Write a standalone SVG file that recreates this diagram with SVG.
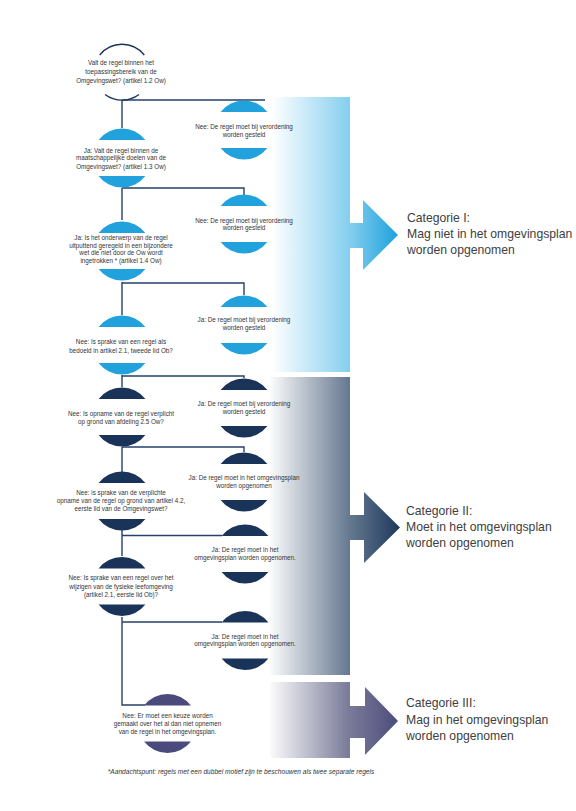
<svg xmlns="http://www.w3.org/2000/svg" xmlns:xlink="http://www.w3.org/1999/xlink" width="576" height="811" viewBox="0 0 576 811">
<style>
.t{font-family:"Liberation Sans",Arial,sans-serif;font-size:6.3px;fill:#333;text-anchor:middle}
.c{font-family:"Liberation Sans",Arial,sans-serif;font-size:12.2px;fill:#404040}
.con{fill:none;stroke:#24426a;stroke-width:1.4}
.lb{fill:#22a2dc}.nv{fill:#1a3358}.pu{fill:#4a4b7c}
.fn{font-family:"Liberation Sans",Arial,sans-serif;font-size:6.6px;font-style:italic;fill:#333;text-anchor:middle}
</style>
<defs>
<path id="cap" d="M-23.4,-18 A29.5,29.5 0 0 1 23.4,-18 Z M-23.4,18 A29.5,29.5 0 0 0 23.4,18 Z"/>
<linearGradient id="g1" gradientUnits="userSpaceOnUse" x1="272" y1="0" x2="400" y2="0">
<stop offset="0" stop-color="#fff"/><stop offset="0.6" stop-color="#86cfef"/><stop offset="1" stop-color="#1a9fdb"/>
</linearGradient>
<linearGradient id="g2" gradientUnits="userSpaceOnUse" x1="268" y1="0" x2="402" y2="0">
<stop offset="0" stop-color="#fff"/><stop offset="0.6" stop-color="#677a91"/><stop offset="1" stop-color="#1b365b"/>
</linearGradient>
<linearGradient id="g3" gradientUnits="userSpaceOnUse" x1="268" y1="0" x2="400" y2="0">
<stop offset="0" stop-color="#fff"/><stop offset="0.6" stop-color="#7c7d9a"/><stop offset="1" stop-color="#4a4a7a"/>
</linearGradient>
</defs>
<rect width="576" height="811" fill="#fff"/>
<g id="bars">
<path fill="url(#g1)" d="M270,97 H350 V223 H363 V200 L398,235 L363,270 V248 H350 V372 H270 Z"/>
<path fill="url(#g2)" d="M270,377 H350 V515 H364 V492 L400,527.5 L364,563 V540 H350 V675 H270 Z"/>
<path fill="url(#g3)" d="M270,682 H350 V706 H365 V687 L398,721 L365,755 V738 H350 V758 H270 Z"/>
</g>
<g id="connectors" class="con">
<path d="M122,100 V128 M122,100 H265"/>
<path d="M122,188 V220 M122,188 H244 V195"/>
<path d="M122,282 V315 M122,283 H244 V295"/>
<path d="M122,375 V387 M122,376 H244 V378"/>
<path d="M122,447 V472 M122,447 H244 V452"/>
<path d="M122,530 V556 M122,535.5 H222"/>
<path d="M122,617 V705 H145 M122,622 H222"/>
</g>
<g id="n1">
<path d="M99.7,55 A28.5,28.5 0 0 1 144.3,55 M105,94.5 A28.5,28.5 0 0 0 139,94.5" fill="none" stroke="#1a3358" stroke-width="1.3"/>
<text class="t" x="121" y="65">Valt de regel binnen het</text>
<text class="t" x="121" y="74">toepassingsbereik van de</text>
<text class="t" x="121" y="83">Omgevingswet? (artikel 1.2 Ow)</text>
</g>
<g id="r1">
<use href="#cap" class="lb" transform="translate(244,130)"/>
<text class="t" x="244" y="129">Nee: De regel moet bij verordening</text>
<text class="t" x="244" y="137">worden gesteld</text>
</g>
<g id="n2">
<use href="#cap" class="lb" transform="translate(122,158)"/>
<text class="t" x="121" y="152.7">Ja: Valt de regel binnen de</text>
<text class="t" x="121" y="160.3">maatschappelijke doelen van de</text>
<text class="t" x="121" y="168.7">Omgevingswet? (artikel 1.3 Ow)</text>
</g>
<g id="r2">
<use href="#cap" class="lb" transform="translate(244,224)"/>
<text class="t" x="244" y="222.7">Nee: De regel moet bij verordening</text>
<text class="t" x="244" y="229.7">worden gesteld</text>
</g>
<g id="n3">
<use href="#cap" class="lb" transform="translate(122,251)"/>
<text class="t" x="121" y="240.3">Ja: Is het onderwerp van de regel</text>
<text class="t" x="121" y="248">uitputtend geregeld in een bijzondere</text>
<text class="t" x="121" y="255.3">wet die niet door de Ow wordt</text>
<text class="t" x="121" y="262.7">ingetrokken * (artikel 1.4 Ow)</text>
</g>
<g id="r3">
<use href="#cap" class="lb" transform="translate(244,325)"/>
<text class="t" x="244" y="322">Ja: De regel moet bij verordening</text>
<text class="t" x="244" y="330">worden gesteld</text>
</g>
<g id="n4">
<use href="#cap" class="lb" transform="translate(122,345)"/>
<text class="t" x="121" y="344">Nee: Is sprake van een regel als</text>
<text class="t" x="121" y="353">bedoeld in artikel 2.1, tweede lid Ob?</text>
</g>
<g id="r4">
<use href="#cap" class="nv" transform="translate(244,408)"/>
<text class="t" x="244" y="406">Ja: De regel moet bij verordening</text>
<text class="t" x="244" y="414">worden gesteld</text>
</g>
<g id="n5">
<use href="#cap" class="nv" transform="translate(122,417)"/>
<text class="t" x="121" y="416">Nee: Is opname van de regel verplicht</text>
<text class="t" x="121" y="424">op grond van afdeling 2.5 Ow?</text>
</g>
<g id="r5">
<use href="#cap" class="nv" transform="translate(244,482)"/>
<text class="t" x="244" y="480">Ja: De regel moet in het omgevingsplan</text>
<text class="t" x="244" y="487.5">worden opgenomen</text>
</g>
<g id="n6">
<use href="#cap" class="nv" transform="translate(122,501)"/>
<text class="t" x="121" y="495">Nee: is sprake van de verplichte</text>
<text class="t" x="121" y="503">opname van de regel op grond van artikel 4.2,</text>
<text class="t" x="121" y="511">eerste lid van de Omgevingswet?</text>
</g>
<g id="r6">
<use href="#cap" class="nv" transform="translate(245,554)"/>
<text class="t" x="245" y="552">Ja: De regel moet in het</text>
<text class="t" x="245" y="560">omgevingsplan worden opgenomen.</text>
</g>
<g id="n7">
<use href="#cap" class="nv" transform="translate(122,586.5)"/>
<text class="t" x="121" y="580">Nee: Is sprake van een regel over het</text>
<text class="t" x="121" y="589">wijzigen van de fysieke leefomgeving</text>
<text class="t" x="121" y="597">(artikel 2.1, eerste lid Ob)?</text>
</g>
<g id="r7">
<use href="#cap" class="nv" transform="translate(245,640.5)"/>
<text class="t" x="245" y="639">Ja: De regel moet in het</text>
<text class="t" x="245" y="646">omgevingsplan worden opgenomen.</text>
</g>
<g id="n8">
<use href="#cap" class="pu" transform="translate(167.5,723.5)"/>
<text class="t" x="167.5" y="718">Nee: Er moet een keuze worden</text>
<text class="t" x="167.5" y="726">gemaakt over het al dan niet opnemen</text>
<text class="t" x="167.5" y="734">van de regel in het omgevingsplan.</text>
</g>
<g id="cat1">
<text class="c" x="407" y="222">Categorie I:</text>
<text class="c" x="407" y="238">Mag niet in het omgevingsplan</text>
<text class="c" x="407" y="254">worden opgenomen</text>
</g>
<g id="cat2">
<text class="c" x="406" y="515">Categorie II:</text>
<text class="c" x="406" y="531">Moet in het omgevingsplan</text>
<text class="c" x="406" y="547">worden opgenomen</text>
</g>
<g id="cat3">
<text class="c" x="406" y="707">Categorie III:</text>
<text class="c" x="406" y="724">Mag in het omgevingsplan</text>
<text class="c" x="406" y="740">worden opgenomen</text>
</g>
<text class="fn" x="241" y="774">*Aandachtspunt: regels met een dubbel motief zijn te beschouwen als twee separate regels</text>
</svg>
